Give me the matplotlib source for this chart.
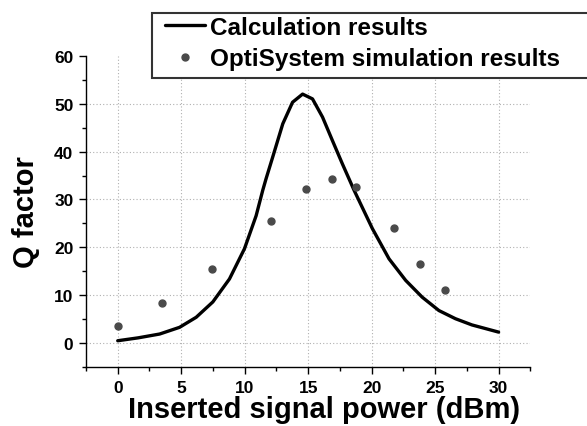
import matplotlib
matplotlib.use("Agg")
import matplotlib.pyplot as plt
from matplotlib.ticker import MultipleLocator
from matplotlib.patches import Rectangle

plt.rcParams['font.family'] = ['Liberation Sans', 'DejaVu Sans']
plt.rcParams['font.weight'] = 'bold'

# Calculation results (curve)
calc_x = [0.0, 1.6, 3.3, 4.87, 6.18, 7.49, 8.8, 9.98, 10.9, 11.42, 11.68, 12.2, 13.0, 13.77,
          14.56, 15.34, 16.13, 16.91, 17.7, 18.62, 20.06, 21.37, 22.68, 23.98, 25.3, 26.6,
          27.9, 30.0]
calc_y = [0.5, 1.1, 1.9, 3.3, 5.4, 8.6, 13.4, 19.7, 26.6, 31.9, 34.3, 38.8, 45.8, 50.3,
          52.0, 51.0, 47.2, 42.3, 37.4, 31.9, 23.9, 17.6, 13.1, 9.6, 6.8, 5.1,
          3.8, 2.3]

# OptiSystem simulation results
sim_x = [0.0, 3.45, 7.45, 12.05, 14.85, 16.85, 18.75, 21.75, 23.8, 25.8]
sim_y = [3.6, 8.4, 15.4, 25.4, 32.2, 34.2, 32.6, 24.0, 16.6, 11.0]

xticks = [0, 5, 10, 15, 20, 25, 30]
yticks = [0, 10, 20, 30, 40, 50, 60]

fig = plt.figure(figsize=(5.87, 4.27), dpi=100)
ax = fig.add_axes([0.1465, 0.138, 0.757, 0.729])

for xv in xticks:
    ax.axvline(xv, color='#b0b0b0', lw=0.8, ls=(0, (1, 2)), zorder=0)
for yv in yticks[:-1]:
    ax.axhline(yv, color='#b0b0b0', lw=0.8, ls=(0, (1, 2)), zorder=0)

ax.plot(calc_x, calc_y, color='black', lw=2.4, label='Calculation results',
        solid_capstyle='round', solid_joinstyle='round', zorder=3)
ax.plot(sim_x, sim_y, ls='none', marker='o', ms=5, color='#4a4a4a',
        label='OptiSystem simulation results', zorder=4)

ax.set_xlim(-2.5, 32.5)
ax.set_ylim(-5, 60)
ax.set_xticks(xticks)
ax.set_yticks(yticks)
ax.xaxis.set_minor_locator(MultipleLocator(2.5))
ax.yaxis.set_minor_locator(MultipleLocator(5))
ax.tick_params(which='major', direction='out', length=5, width=1, labelsize=12.5, pad=4)
ax.tick_params(which='minor', direction='out', length=3, width=1)
for lab in ax.get_xticklabels() + ax.get_yticklabels():
    lab.set_fontweight('bold')

ax.spines['top'].set_visible(False)
ax.spines['right'].set_visible(False)
ax.spines['left'].set_linewidth(1)
ax.spines['bottom'].set_linewidth(1)

ax.set_xlabel('Inserted signal power (dBm)', fontsize=21, fontweight='bold', labelpad=0,
              x=0.535)
ax.set_ylabel('Q factor', fontsize=21, fontweight='bold', labelpad=10)

# legend frame (extends to right edge of the figure)
frame = Rectangle((0.2584, 0.8143), 0.76, 0.1522, transform=fig.transFigure,
                  facecolor='white', edgecolor='#333333', lw=1.5, zorder=5, clip_on=False)
fig.patches.append(frame)

leg = fig.legend(loc='upper left', bbox_to_anchor=(0.2811, 0.961), fontsize=17.5,
                 frameon=False, handlelength=1.65, handletextpad=0.2,
                 borderpad=0.0, labelspacing=0.35, borderaxespad=0)
leg.set_zorder(6)
for t in leg.get_texts():
    t.set_fontweight('bold')

fig.savefig('out.png', dpi=100)
